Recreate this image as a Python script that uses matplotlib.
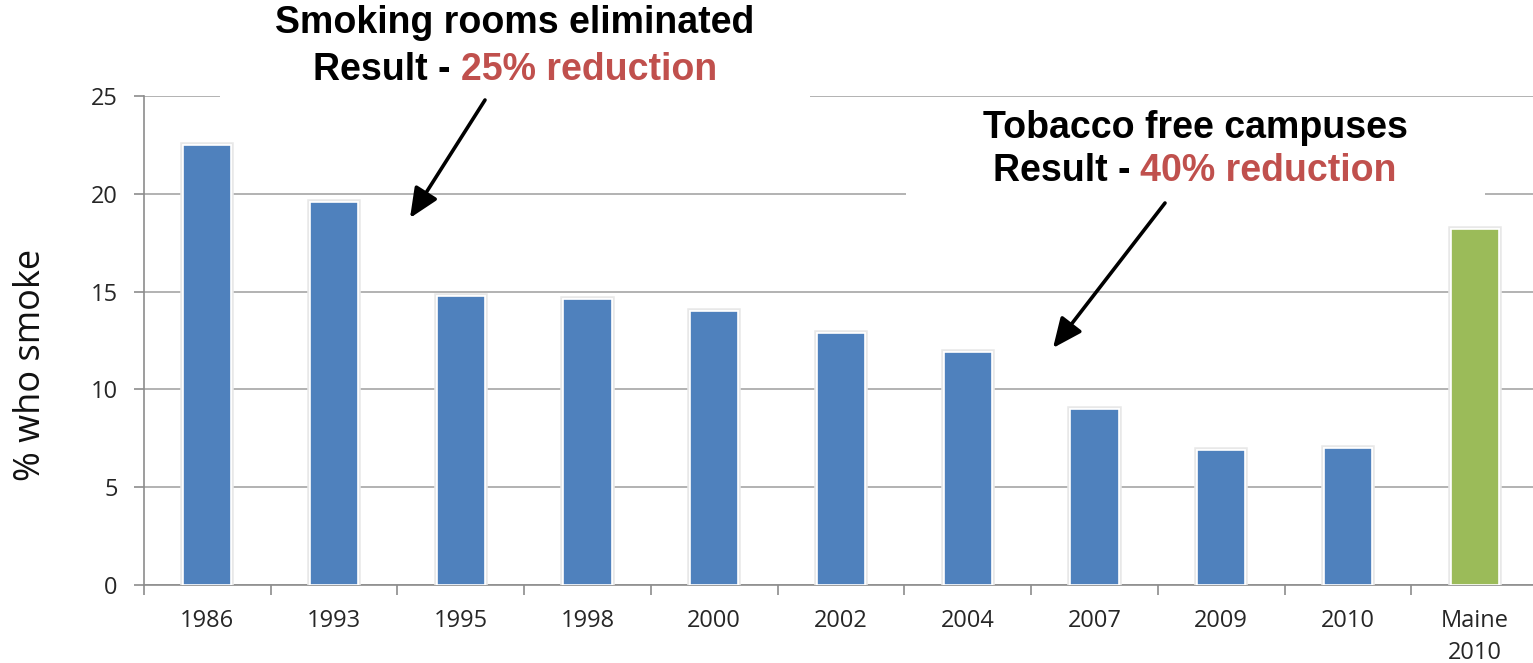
import matplotlib
matplotlib.use("Agg")
import matplotlib.pyplot as plt
import matplotlib.patheffects as pe
from matplotlib.patches import Rectangle, FancyArrowPatch
import numpy as np

categories = ["1986", "1993", "1995", "1998", "2000", "2002", "2004", "2007", "2009", "2010", "Maine\n2010"]
values = [22.5, 19.6, 14.8, 14.6, 14.0, 12.9, 11.9, 9.0, 6.9, 7.0, 18.2]
bar_colors = ["#4F81BD"] * 10 + ["#9BBB59"]
yticks = [0, 5, 10, 15, 20, 25]

W, H = 1533, 663
fig = plt.figure(figsize=(W / 100, H / 100), dpi=100)
fig.patch.set_facecolor("white")

def fx(px):
    return px / W

def fy(py):
    return 1 - py / H

ax = fig.add_axes([fx(144), fy(585), fx(1538) - fx(144), fy(96) - fy(585)])
x = np.arange(len(categories))
bars = ax.bar(x, values, width=0.38, color=bar_colors, edgecolor="white", linewidth=1.2, zorder=3)
for b in bars:
    b.set_path_effects([pe.withStroke(linewidth=4, foreground="#e8e8e8"), pe.Normal()])

ax.set_xlim(-0.5, len(categories) - 0.5)
ax.set_ylim(0, 25)
ax.set_yticks(yticks)
ax.yaxis.grid(True, color="#a6a6a6", linewidth=1.2, zorder=0)
ax.set_axisbelow(True)
for s in ["top", "right"]:
    ax.spines[s].set_visible(False)
for s in ["left", "bottom"]:
    ax.spines[s].set_color("#8c8c8c")
    ax.spines[s].set_linewidth(1.2)

ax.tick_params(axis="y", direction="out", length=7, width=1.2, color="#8c8c8c",
               labelsize=17, labelcolor="#262626", pad=12)
ax.set_yticklabels([str(v) for v in yticks], fontfamily="Open Sans")

ax.set_xticks(x)
ax.set_xticklabels(categories, fontfamily="Open Sans", fontsize=17, color="#262626", linespacing=1.45)
ax.tick_params(axis="x", which="major", length=0, pad=17)
ax.set_xticks(np.arange(len(categories) + 1) - 0.5, minor=True)
ax.tick_params(axis="x", which="minor", direction="out", length=7, width=1.2, color="#8c8c8c")

ax.set_ylabel("% who smoke", fontfamily="Open Sans", fontsize=26, color="#111111")
ax.yaxis.set_label_coords(-0.068, 0.45)

# white boxes behind annotations (cover gridlines)
fig.patches.append(Rectangle((fx(220), fy(110)), fx(810) - fx(220), fy(0) - fy(110),
                             transform=fig.transFigure, facecolor="white", edgecolor="none", zorder=5))
fig.patches.append(Rectangle((fx(906), fy(205)), fx(1485) - fx(906), fy(100) - fy(205),
                             transform=fig.transFigure, facecolor="white", edgecolor="none", zorder=5))

bold = dict(fontfamily="Liberation Sans", fontweight="bold", fontsize=27)
red = "#C0504D"

fig.text(fx(515), fy(23), "Smoking rooms eliminated", ha="center", va="center", color="black", zorder=10, **bold)
fig.text(fx(1195), fy(128), "Tobacco free campuses", ha="center", va="center", color="black", zorder=10, **bold)

renderer = fig.canvas.get_renderer()

def two_part(cx, py, black_txt, red_txt):
    a = fig.text(0, fy(py), black_txt, ha="left", va="center", color="black", zorder=10, **bold)
    b = fig.text(0, fy(py), red_txt, ha="left", va="center", color=red, zorder=10, **bold)
    wa = a.get_window_extent(renderer).width
    wb = b.get_window_extent(renderer).width
    gap = 10
    total = wa + gap + wb
    left = cx - total / 2
    a.set_x(fx(left))
    b.set_x(fx(left + wa + gap))

two_part(515, 70, "Result -", "25% reduction")
two_part(1195, 171, "Result -", "40% reduction")

style = "-|>,head_length=0.9,head_width=0.4"
fig.add_artist(FancyArrowPatch((fx(485), fy(100)), (fx(410), fy(218)), transform=fig.transFigure,
                               arrowstyle=style, color="black", linewidth=2.6, shrinkA=0, shrinkB=0,
                               mutation_scale=20, zorder=11))
fig.add_artist(FancyArrowPatch((fx(1165), fy(203)), (fx(1053), fy(348)), transform=fig.transFigure,
                               arrowstyle=style, color="black", linewidth=2.6, shrinkA=0, shrinkB=0,
                               mutation_scale=20, zorder=11))

fig.savefig("out.png", dpi=100, facecolor="white")
